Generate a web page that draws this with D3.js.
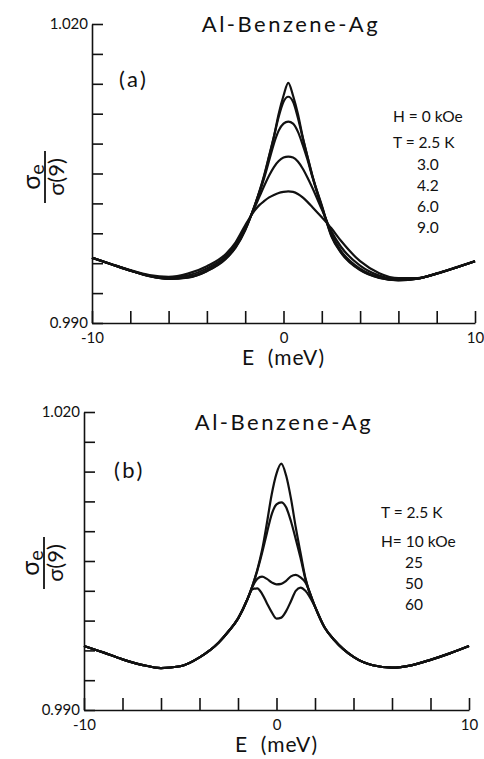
<!DOCTYPE html>
<html>
<head>
<meta charset="utf-8">
<script src="https://cdn.jsdelivr.net/npm/d3@7"></script>
<style>
  body { margin: 0; background: #fff; }
  text { font-family: Lato, "Open Sans", sans-serif; fill: #111; }
  .axis path, .axis line { stroke: #111; stroke-width: 1.6; }
  .axis text { font-size: 15px; font-family: Lato, "Open Sans", sans-serif; fill: #111; }
  .curve { fill: none; stroke: #111; stroke-width: 2.2; }
</style>
</head>
<body>
<svg id="chart" width="484" height="759"></svg>
<script>
var title = "Al-Benzene-Ag";
var energy = [-10, -9, -8, -7, -6, -5, -4, -3, -2.5, -2, -1.5, -1.25, -1, -0.75, -0.5, -0.25,
              0, 0.25, 0.5, 0.75, 1, 1.25, 1.5, 2, 2.5, 3, 4, 5, 6, 7, 8, 9, 10];
var xTicks = [-10, -8, -6, -4, -2, 0, 2, 4, 6, 8, 10];
var xTickLabels = [-10, 0, 10];
var yTicks = [0.990, 0.993, 0.996, 0.999, 1.002, 1.005, 1.008, 1.011, 1.014, 1.017, 1.020];
var yTickLabels = [0.990, 1.020];

// (a) H = 0 kOe, T = 2.5, 3.0, 4.2, 6.0, 9.0 K
var a_T25 = [0.99655, 0.99590, 0.99525, 0.99470, 0.99442, 0.99455, 0.99520, 0.99645, 0.99755, 0.99930,
             1.00180, 1.00320, 1.00480, 1.00670, 1.00870, 1.01100, 1.01280, 1.01410, 1.01280, 1.01100,
             1.00870, 1.00670, 1.00480, 1.00180, 0.99870, 0.99705, 0.99530, 0.99452, 0.99428, 0.99445,
             0.99495, 0.99555, 0.99620];
var a_T30 = [0.99655, 0.99590, 0.99525, 0.99470, 0.99443, 0.99457, 0.99522, 0.99650, 0.99762, 0.99935,
             1.00180, 1.00325, 1.00490, 1.00680, 1.00870, 1.01070, 1.01220, 1.01270, 1.01220, 1.01060,
             1.00860, 1.00670, 1.00485, 1.00170, 0.99880, 0.99712, 0.99535, 0.99455, 0.99430, 0.99446,
             0.99495, 0.99555, 0.99620];
var a_T42 = [0.99655, 0.99590, 0.99526, 0.99472, 0.99446, 0.99462, 0.99530, 0.99660, 0.99775, 0.99945,
             1.00175, 1.00310, 1.00460, 1.00630, 1.00800, 1.00930, 1.01000, 1.01020, 1.01000, 1.00920,
             1.00790, 1.00640, 1.00470, 1.00160, 0.99895, 0.99725, 0.99545, 0.99460, 0.99432, 0.99446,
             0.99495, 0.99555, 0.99620];
var a_T60 = [0.99655, 0.99590, 0.99527, 0.99474, 0.99450, 0.99475, 0.99548, 0.99675, 0.99790, 0.99960,
             1.00160, 1.00270, 1.00380, 1.00480, 1.00565, 1.00625, 1.00660, 1.00670, 1.00660, 1.00620,
             1.00550, 1.00460, 1.00360, 1.00140, 0.99920, 0.99765, 0.99575, 0.99475, 0.99440, 0.99447,
             0.99496, 0.99556, 0.99620];
var a_T90 = [0.99655, 0.99592, 0.99530, 0.99480, 0.99462, 0.99495, 0.99570, 0.99695, 0.99810, 0.99980,
             1.00130, 1.00185, 1.00225, 1.00260, 1.00285, 1.00305, 1.00315, 1.00320, 1.00315, 1.00295,
             1.00260, 1.00215, 1.00165, 1.00060, 0.99950, 0.99825, 0.99620, 0.99500, 0.99450, 0.99450,
             0.99498, 0.99558, 0.99620];

// (b) T = 2.5 K, H = 10, 25, 50, 60 kOe
var b_H10 = [0.99645, 0.99580, 0.99510, 0.99455, 0.99422, 0.99440, 0.99530, 0.99680, 0.99790, 0.99920,
             1.00120, 1.00250, 1.00410, 1.00610, 1.00880, 1.01170, 1.01380, 1.01480, 1.01360, 1.01130,
             1.00840, 1.00580, 1.00330, 1.00040, 0.99830, 0.99705, 0.99535, 0.99450, 0.99426, 0.99450,
             0.99505, 0.99570, 0.99644];
var b_H25 = [0.99645, 0.99580, 0.99510, 0.99455, 0.99422, 0.99440, 0.99530, 0.99680, 0.99790, 0.99920,
             1.00120, 1.00250, 1.00400, 1.00580, 1.00780, 1.00970, 1.01070, 1.01090, 1.01040, 1.00900,
             1.00720, 1.00530, 1.00320, 1.00040, 0.99830, 0.99705, 0.99535, 0.99450, 0.99426, 0.99450,
             0.99505, 0.99570, 0.99644];
var b_H50 = [0.99645, 0.99580, 0.99510, 0.99455, 0.99422, 0.99440, 0.99530, 0.99680, 0.99790, 0.99920,
             1.00120, 1.00240, 1.00320, 1.00342, 1.00320, 1.00285, 1.00265, 1.00270, 1.00300, 1.00345,
             1.00360, 1.00335, 1.00285, 1.00040, 0.99830, 0.99705, 0.99535, 0.99450, 0.99426, 0.99450,
             0.99505, 0.99570, 0.99644];
var b_H60 = [0.99645, 0.99580, 0.99510, 0.99455, 0.99422, 0.99440, 0.99530, 0.99680, 0.99790, 0.99920,
             1.00120, 1.00215, 1.00225, 1.00170, 1.00075, 0.99985, 0.99920, 0.99930, 0.99995, 1.00095,
             1.00200, 1.00232, 1.00200, 1.00040, 0.99830, 0.99705, 0.99535, 0.99450, 0.99426, 0.99450,
             0.99505, 0.99570, 0.99644];

var legendA = ["H = 0 kOe", "T = 2.5 K", "3.0", "4.2", "6.0", "9.0"];
var legendB = ["T = 2.5 K", "H= 10 kOe", "25", "50", "60"];

var svg = d3.select("#chart");

function drawPanel(p) {
  var x = d3.scaleLinear().domain([-10, 10]).range([p.left, p.right]);
  var y = d3.scaleLinear().domain([0.990, 1.020]).range([p.bottom, p.top]);
  var g = svg.append("g");

  g.append("g")
    .attr("class", "axis")
    .attr("transform", "translate(" + p.left + ",0)")
    .call(d3.axisLeft(y).tickValues(yTicks).tickSizeInner(-11).tickSizeOuter(0).tickPadding(4)
      .tickFormat(function(d) {
        return yTickLabels.some(function(v) { return Math.abs(v - d) < 1e-6; }) ? d3.format(".3f")(d) : "";
      }));

  g.append("g")
    .attr("class", "axis")
    .attr("transform", "translate(0," + p.bottom + ")")
    .call(d3.axisBottom(x).tickValues(xTicks).tickSizeInner(-12).tickSizeOuter(0).tickPadding(9)
      .tickFormat(function(d) { return xTickLabels.indexOf(d) >= 0 ? String(d) : ""; }));

  var line = d3.line()
    .x(function(d, i) { return x(energy[i]); })
    .y(function(d) { return y(d); })
    .curve(d3.curveMonotoneX);

  p.series.forEach(function(s) {
    g.append("path").attr("class", "curve").attr("d", line(s));
  });

  g.append("text")
    .attr("x", p.titleX).attr("y", p.titleY)
    .attr("text-anchor", "middle")
    .style("font-size", "22px").style("letter-spacing", "2.5px")
    .text(title);

  g.append("text")
    .attr("x", p.tagX).attr("y", p.tagY)
    .style("font-size", "22px").style("letter-spacing", "2.5px")
    .text(p.tag);

  // y label: sigma_e over sigma(9), turned on its side
  var yl = g.append("g").attr("transform", "translate(" + p.ylabX + "," + p.ylabY + ") rotate(-90)");
  var num = yl.append("text").attr("x", 0).attr("y", -5).attr("text-anchor", "middle").style("font-size", "25px");
  num.append("tspan").text("σ");
  num.append("tspan").attr("dy", 4).style("font-size", "20px").text("e");
  yl.append("line").attr("x1", -26).attr("x2", 26).attr("y1", 0).attr("y2", 0)
    .attr("stroke", "#111").attr("stroke-width", 1.8);
  yl.append("text").attr("x", 0).attr("y", 19).attr("text-anchor", "middle").style("font-size", "22px")
    .text("σ(9)");

  g.append("text")
    .attr("x", x(0)).attr("y", p.bottom + 42)
    .attr("text-anchor", "middle")
    .style("font-size", "21px").style("letter-spacing", "1px")
    .text("E\u00a0\u00a0(meV)");

  p.legend.forEach(function(t, i) {
    g.append("text")
      .attr("x", i < p.legendIndent ? p.legX : p.legX2)
      .attr("y", p.legY[i])
      .style("font-size", "15.5px")
      .text(t);
  });
}

drawPanel({
  left: 92, right: 475, top: 24, bottom: 323,
  series: [a_T25, a_T30, a_T42, a_T60, a_T90],
  titleX: 291, titleY: 32, tag: "(a)", tagX: 119, tagY: 87,
  ylabX: 45, ylabY: 177,
  legend: legendA, legendIndent: 2, legX: 393, legX2: 417,
  legY: [122, 148, 170, 191, 212, 233]
});

drawPanel({
  left: 84, right: 469, top: 412, bottom: 710,
  series: [b_H10, b_H25, b_H50, b_H60],
  titleX: 284, titleY: 430, tag: "(b)", tagX: 114, tagY: 478,
  ylabX: 44, ylabY: 563,
  legend: legendB, legendIndent: 2, legX: 381, legX2: 405,
  legY: [518, 547, 568, 589, 610]
});
</script>
</body>
</html>
